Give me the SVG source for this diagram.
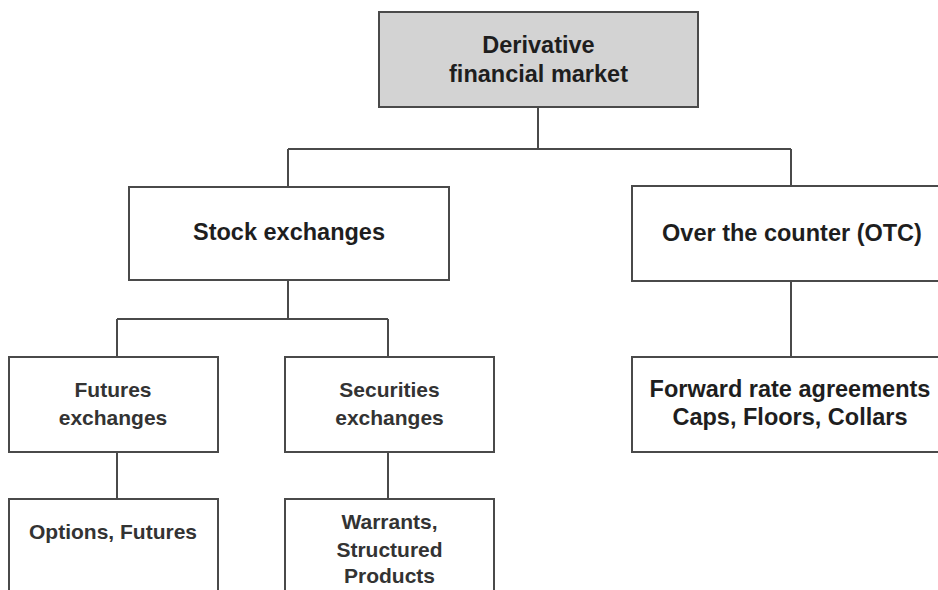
<svg xmlns="http://www.w3.org/2000/svg" width="938" height="590" viewBox="0 0 938 590">
<style>
.box{fill:#fff;stroke:#4a4a4a;stroke-width:2}
.root{fill:#d3d3d3;stroke:#4a4a4a;stroke-width:2}
.t{font-family:"Liberation Sans",Arial,sans-serif;font-weight:bold;font-size:23.5px;fill:#1e1e1e;text-anchor:middle}
.s{font-family:"Liberation Sans",Arial,sans-serif;font-weight:bold;font-size:21px;fill:#333;text-anchor:middle}
.c{fill:none;stroke:#4a4a4a;stroke-width:2}
</style>
<rect width="938" height="590" fill="#fff"/>
<g id="connectors">
<path class="c" d="M538,107V149M288,149H791M288,149V187M791,149V186"/>
<path class="c" d="M288,280V319M117,319H388M117,319V357M388,319V357"/>
<path class="c" d="M791,281V357"/>
<path class="c" d="M117,452V499M388,452V499"/>
</g>
<g id="root"><rect class="root" x="379" y="12" width="319" height="95"/>
<text class="t" x="538.5" y="53">Derivative</text><text class="t" x="538.5" y="82">financial market</text></g>
<g id="stock"><rect class="box" x="129" y="187" width="320" height="93"/>
<text class="t" x="289" y="240">Stock exchanges</text></g>
<g id="otc"><rect class="box" x="632" y="186" width="320" height="95"/>
<text class="t" x="792" y="241">Over the counter (OTC)</text></g>
<g id="futures"><rect class="box" x="9" y="357" width="209" height="95"/>
<text class="s" x="113" y="397">Futures</text><text class="s" x="113" y="425">exchanges</text></g>
<g id="securities"><rect class="box" x="285" y="357" width="209" height="95"/>
<text class="s" x="389.5" y="397">Securities</text><text class="s" x="389.5" y="425">exchanges</text></g>
<g id="forward"><rect class="box" x="632" y="357" width="320" height="95"/>
<text class="t" x="790" y="397">Forward rate agreements</text><text class="t" x="790" y="425">Caps, Floors, Collars</text></g>
<g id="options"><rect class="box" x="9" y="499" width="209" height="110"/>
<text class="s" x="113" y="539">Options, Futures</text></g>
<g id="warrants"><rect class="box" x="285" y="499" width="209" height="110"/>
<text class="s" x="389.5" y="529">Warrants,</text><text class="s" x="389.5" y="557">Structured</text><text class="s" x="389.5" y="583">Products</text></g>
</svg>
